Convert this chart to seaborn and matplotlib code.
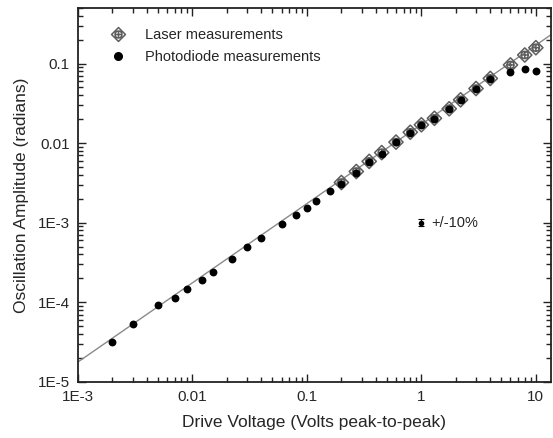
import numpy as np
import pandas as pd
import seaborn as sns
import matplotlib
matplotlib.use("Agg")
import matplotlib.pyplot as plt
from matplotlib.path import Path
from matplotlib.lines import Line2D
from matplotlib.ticker import LogLocator, NullFormatter

# ---- data ----
photo_x = [0.002, 0.003, 0.005, 0.007, 0.009, 0.012, 0.015, 0.022, 0.03, 0.04,
           0.06, 0.08, 0.1, 0.12, 0.16, 0.2, 0.27, 0.35, 0.45, 0.6,
           0.8, 1.0, 1.3, 1.75, 2.2, 3.0, 4.0, 6.0, 8.0, 10.0]
photo_y = [3.2e-5, 5.3e-5, 9.3e-5, 1.12e-4, 1.45e-4, 1.92e-4, 2.42e-4, 3.55e-4, 4.9e-4, 6.5e-4,
           9.6e-4, 1.25e-3, 1.55e-3, 1.87e-3, 2.5e-3, 3.1e-3, 4.25e-3, 5.85e-3, 7.35e-3, 1.02e-2,
           1.35e-2, 1.68e-2, 2.0e-2, 2.65e-2, 3.45e-2, 4.75e-2, 6.35e-2, 7.9e-2, 8.6e-2, 8.1e-2]
laser_x = [0.2, 0.27, 0.35, 0.45, 0.6, 0.8, 1.0, 1.3, 1.75, 2.2, 3.0, 4.0, 6.0, 8.0, 10.0]
laser_y = [3.2e-3, 4.4e-3, 5.9e-3, 7.6e-3, 1.03e-2, 1.37e-2, 1.7e-2, 2.05e-2, 2.7e-2, 3.5e-2,
           4.85e-2, 6.5e-2, 9.6e-2, 1.28e-1, 1.58e-1]
fit_coef = 0.0172
fit_exp = 0.995
fit_x = [1e-3, 13.5]
err_x = [1.0]
err_y = [1e-3]
err_frac = 0.10

x_ticks = [1e-3, 1e-2, 1e-1, 1, 10]
x_ticklabels = ["1E-3", "0.01", "0.1", "1", "10"]
y_ticks = [1e-5, 1e-4, 1e-3, 1e-2, 1e-1]
y_ticklabels = ["1E-5", "1E-4", "1E-3", "0.01", "0.1"]

# ---- style ----
sns.set_style("ticks")
plt.rcParams['font.family'] = ['Liberation Sans', 'DejaVu Sans']

fig = plt.figure(figsize=(5.53, 4.38), dpi=100)
ax = fig.add_axes([0.141, 0.128, 0.855, 0.854])

# laser marker: diamond + circle + cross
diamond = Path([(0, 1), (1, 0), (0, -1), (-1, 0), (0, 1)],
               [Path.MOVETO, Path.LINETO, Path.LINETO, Path.LINETO, Path.CLOSEPOLY])
circ = Path.circle((0, 0), 0.5)
cross = Path([(-0.5, 0), (0.5, 0), (0, -0.5), (0, 0.5)],
             [Path.MOVETO, Path.LINETO, Path.MOVETO, Path.LINETO])
laser_marker = Path.make_compound_path(diamond, circ, cross)

fit_y = [fit_coef * v ** fit_exp for v in fit_x]
fit_df = pd.DataFrame({"x": fit_x, "y": fit_y})
sns.lineplot(data=fit_df, x="x", y="y", ax=ax, color="#8a8a8a", lw=1.0, zorder=1)

photo_df = pd.DataFrame({"x": photo_x, "y": photo_y})
ax.scatter(laser_x, laser_y, marker=laser_marker, s=105, facecolors="none",
           edgecolors="#5e5e5e", linewidths=1.1, zorder=2)
sns.scatterplot(data=photo_df, x="x", y="y", ax=ax, color="black", s=32,
                edgecolor="black", linewidth=0, zorder=3)

ax.errorbar(err_x, err_y, yerr=[[e * err_frac for e in err_y], [e * err_frac for e in err_y]],
            fmt='o', ms=3, color="black", capsize=2.5, elinewidth=0.8, capthick=0.8)
ax.text(1.22, 1e-3, "+/-10%", fontsize=10.5, va="center", ha="left")

ax.set_xscale("log")
ax.set_yscale("log")
ax.set_xlim(1e-3, 13.5)
ax.set_ylim(1e-5, 0.5)
ax.set_xticks(x_ticks)
ax.set_xticklabels(x_ticklabels)
ax.set_yticks(y_ticks)
ax.set_yticklabels(y_ticklabels)
for axis in (ax.xaxis, ax.yaxis):
    axis.set_minor_locator(LogLocator(base=10, subs=np.arange(2, 10), numticks=20))
    axis.set_minor_formatter(NullFormatter())
ax.tick_params(which="both", direction="in", top=True, right=True, labelsize=11,
               width=1.0, color="#222222")
ax.tick_params(which="major", length=6, pad=6)
ax.tick_params(which="minor", length=3.5)
for s in ax.spines.values():
    s.set_linewidth(1.3)
    s.set_color("#222222")

ax.set_xlabel("Drive Voltage (Volts peak-to-peak)", fontsize=12.5, labelpad=8)
ax.set_ylabel("Oscillation Amplitude (radians)", fontsize=12.5, labelpad=6)

handles = [
    Line2D([], [], marker=laser_marker, ls="none", markersize=10, markerfacecolor="none",
           markeredgecolor="#5e5e5e", markeredgewidth=1.1),
    Line2D([], [], marker="o", ls="none", markersize=5.5, color="black"),
]
ax.legend(handles, ["Laser measurements", "Photodiode measurements"], loc="upper left",
          bbox_to_anchor=(0.025, 0.98), frameon=False, fontsize=10.5, handletextpad=0.9,
          labelspacing=0.5)

fig.savefig("out.png", dpi=100)
